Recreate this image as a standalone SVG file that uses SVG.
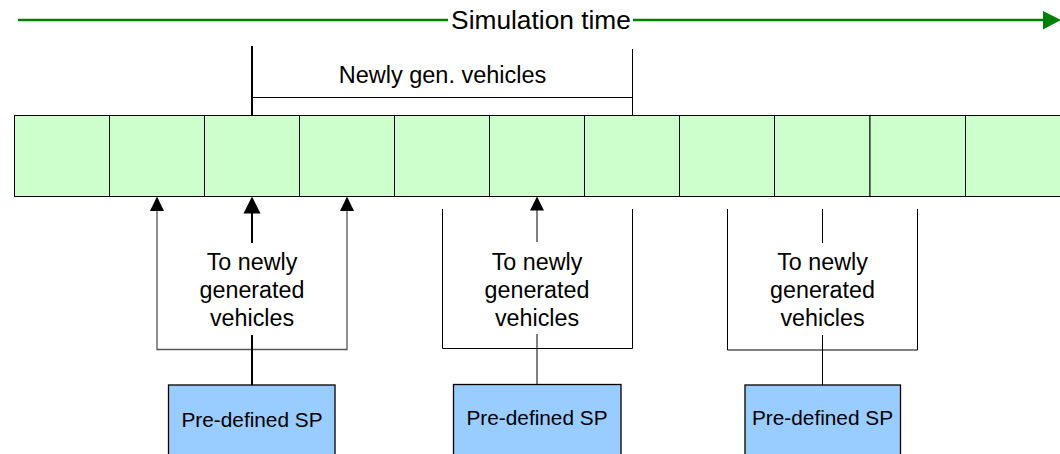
<svg xmlns="http://www.w3.org/2000/svg" width="1060" height="454" viewBox="0 0 1060 454">
<style>
.t{font-family:"Liberation Sans",Arial,sans-serif;fill:#000;text-anchor:middle}
.cell{fill:#CCFFCC;stroke:#000;stroke-width:1}
.sp{fill:#99CCFF;stroke:#000;stroke-width:1.3}
.ln{fill:none;stroke:#000;stroke-width:1}
.gl{fill:none;stroke:#555;stroke-width:1.3}
.thick{fill:none;stroke:#000;stroke-width:2}
</style>
<rect width="1060" height="454" fill="#fff"/>
<g id="timeline">
<line x1="18" y1="20" x2="448" y2="20" stroke="#008000" stroke-width="2.3"/>
<line x1="633" y1="20" x2="1045" y2="20" stroke="#008000" stroke-width="2.3"/>
<polygon points="1043,11 1061,20 1043,29.5" fill="#008000"/>
<text class="t" x="541" y="28.5" font-size="26.3">Simulation time</text>
</g>
<g id="cells">
<rect class="cell" x="14.5" y="115.5" width="95" height="81"/>
<rect class="cell" x="109.5" y="115.5" width="95" height="81"/>
<rect class="cell" x="204.5" y="115.5" width="95" height="81"/>
<rect class="cell" x="299.5" y="115.5" width="95" height="81"/>
<rect class="cell" x="394.5" y="115.5" width="95" height="81"/>
<rect class="cell" x="489.5" y="115.5" width="95" height="81"/>
<rect class="cell" x="584.5" y="115.5" width="95" height="81"/>
<rect class="cell" x="679.5" y="115.5" width="95" height="81"/>
<rect class="cell" x="774.5" y="115.5" width="95.5" height="81"/>
<rect class="cell" x="870" y="115.5" width="95.5" height="81"/>
<rect class="cell" x="965.5" y="115.5" width="96" height="81"/>
</g>
<g id="newly-gen">
<line class="thick" x1="252" y1="46" x2="252" y2="115"/>
<line class="ln" x1="632.5" y1="49" x2="632.5" y2="115" stroke-width="1.5"/>
<line class="ln" x1="252" y1="97.5" x2="632.5" y2="97.5" stroke-width="1.5"/>
<text class="t" x="442.5" y="83" font-size="23.5">Newly gen. vehicles</text>
</g>
<g id="connectors">
<polyline class="gl" points="157,207 157,349.5 347,349.5 347,207"/>
<polygon points="157,196.5 164,211 150,211" fill="#000"/>
<polygon points="347,196.5 354,211 340,211" fill="#000"/>
<line class="thick" x1="252" y1="210" x2="252" y2="243"/>
<polygon points="252,196.5 260.5,213.5 243.5,213.5" fill="#000"/>
<line class="thick" x1="252" y1="335" x2="252" y2="385"/>
<polyline class="ln" points="442.5,209 442.5,348.5 632.5,348.5 632.5,209"/>
<line class="ln" x1="537" y1="208" x2="537" y2="242"/>
<polygon points="537,196.5 544,210.5 530,210.5" fill="#000"/>
<line class="ln" x1="537" y1="334" x2="537" y2="384.5"/>
<polyline class="ln" points="727.5,209 727.5,350 917.5,350 917.5,209"/>
<line class="ln" x1="822.5" y1="209" x2="822.5" y2="243"/>
<line class="ln" x1="822.5" y1="335" x2="822.5" y2="385"/>
</g>
<g id="label1">
<text class="t" x="252" y="270" font-size="23.3">To newly</text>
<text class="t" x="252" y="298" font-size="23.3">generated</text>
<text class="t" x="252" y="326" font-size="23.3">vehicles</text>
</g>
<g id="label2">
<text class="t" x="537" y="269.5" font-size="23.3">To newly</text>
<text class="t" x="537" y="297.5" font-size="23.3">generated</text>
<text class="t" x="537" y="325.5" font-size="23.3">vehicles</text>
</g>
<g id="label3">
<text class="t" x="822.5" y="270" font-size="23.3">To newly</text>
<text class="t" x="822.5" y="298" font-size="23.3">generated</text>
<text class="t" x="822.5" y="326" font-size="23.3">vehicles</text>
</g>
<g id="sp1">
<rect class="sp" x="168.5" y="385" width="166.5" height="80"/>
<text class="t" x="252" y="426.5" font-size="20.8">Pre-defined SP</text>
</g>
<g id="sp2">
<rect class="sp" x="453.5" y="384.5" width="167.5" height="80"/>
<text class="t" x="537" y="425" font-size="20.8">Pre-defined SP</text>
</g>
<g id="sp3">
<rect class="sp" x="745" y="385" width="155.5" height="80"/>
<text class="t" x="822.5" y="425" font-size="20.8">Pre-defined SP</text>
</g>
</svg>
